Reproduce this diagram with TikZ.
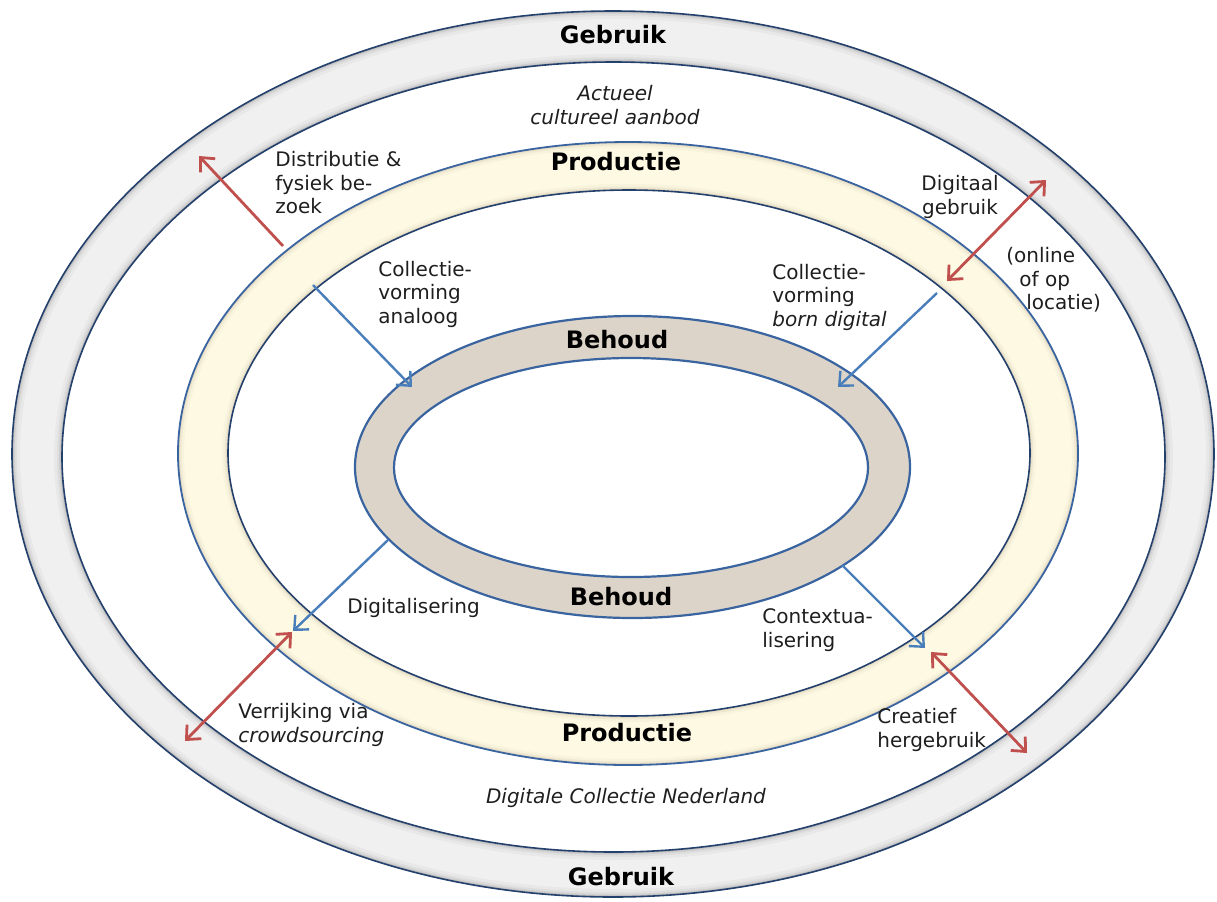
\documentclass[tikz,border=0pt]{standalone}
\usepackage{fontspec}
\setmainfont{DejaVu Sans}
\usetikzlibrary{arrows.meta}
\definecolor{navy}{HTML}{24406C}
\definecolor{ringblue}{HTML}{3A64A0}
\definecolor{arrblue}{HTML}{4A7EBB}
\definecolor{arrred}{HTML}{C0504D}
\definecolor{greyfill}{HTML}{F0F0F1}
\definecolor{yellowfill}{HTML}{FDF9E3}
\definecolor{taupefill}{HTML}{DCD4C8}
\definecolor{txt}{HTML}{1E1E1E}
\begin{document}
\begin{tikzpicture}[x=0.5pt,y=-0.5pt,
  lbl/.style={font=\fontsize{10}{11.75}\selectfont, text=txt, inner sep=0pt, align=left, anchor=west},
  clbl/.style={font=\fontsize{10}{11.75}\selectfont, text=txt, inner sep=0pt, align=center},
  ttl/.style={font=\fontsize{12}{14}\selectfont\bfseries, text=black, inner sep=0pt},
  barb/.tip={Straight Barb[length=5.5pt,width=10pt]},
  redarr/.style={draw=arrred, line width=1.4pt},
  bluearr/.style={draw=arrblue, line width=1.2pt},
  edge/.style={draw=navy, line width=0.8pt},
  bedge/.style={draw=ringblue, line width=0.9pt}
]
\useasboundingbox (0,0) rectangle (1217,901);

% ---------- outer grey ring (Gebruik) ----------
\begin{scope}[even odd rule]
  \clip (613,454) ellipse[x radius=601,y radius=443]
        (613.5,457) ellipse[x radius=551.5,y radius=395];
  \fill[greyfill] (0,0) rectangle (1217,901);
  \foreach \w/\o in {8pt/0.03,5pt/0.04,3pt/0.06,1.5pt/0.10}{
    \draw[black, line width=\w, opacity=\o] (613,454) ellipse[x radius=601,y radius=443]
                                            (613.5,457) ellipse[x radius=551.5,y radius=395];
  }
\end{scope}
\draw[edge] (613,454) ellipse[x radius=601,y radius=443];
\draw[edge] (613.5,457) ellipse[x radius=551.5,y radius=395];

% ---------- middle yellow ring (Productie) ----------
\begin{scope}[even odd rule]
  \clip (628,453.5) ellipse[x radius=450,y radius=311.5]
        (629,453) ellipse[x radius=401,y radius=263];
  \fill[yellowfill] (0,0) rectangle (1217,901);
  \foreach \w/\o in {6pt/0.03,3.5pt/0.05,1.8pt/0.08}{
    \draw[brown!50!black, line width=\w, opacity=\o] (628,453.5) ellipse[x radius=450,y radius=311.5]
                                                     (629,453) ellipse[x radius=401,y radius=263];
  }
\end{scope}
\draw[bedge] (628,453.5) ellipse[x radius=450,y radius=311.5];
\draw[edge] (629,453) ellipse[x radius=401,y radius=263];

% ---------- inner taupe ring (Behoud) ----------
\fill[taupefill, even odd rule] (632.5,467) ellipse[x radius=277.5,y radius=151]
                                (631,467.5) ellipse[x radius=237,y radius=109.5];
\draw[bedge, line width=1.1pt] (632.5,467) ellipse[x radius=277.5,y radius=151];
\draw[bedge, line width=1.1pt] (631,467.5) ellipse[x radius=237,y radius=109.5];

% ---------- titles ----------
\node[ttl] (g1) at (613,35) {Gebruik};
\node[ttl] (p1) at (616,162) {Productie};
\node[ttl] (b1) at (617,340) {Behoud};
\node[ttl] (b2) at (621,597) {Behoud};
\node[ttl] (p2) at (627,733) {Productie};
\node[ttl] (g2) at (621,877) {Gebruik};

% ---------- labels ----------
\node[clbl, font=\fontsize{10}{11.75}\selectfont\itshape] (act) at (615,105) {Actueel\\cultureel aanbod};
\node[clbl, font=\fontsize{10}{11.75}\selectfont\itshape] (dcn) at (626,798) {Digitale Collectie Nederland};
\node[lbl] (dist) at (275,183) {Distributie \&\\fysiek be-\\zoek};
\node[clbl] (dig) at (960,197) {Digitaal\\gebruik};
\node[lbl] (onl) at (1006,280) {(online\\\hspace*{6.5pt}of op\\\hspace*{10pt}locatie)};
\node[lbl] (cva) at (378,294) {Collectie-\\vorming\\analoog};
\node[lbl] (cvb) at (772,297) {Collectie-\\vorming\\\textit{born digital}};
\node[lbl] (dgl) at (347,608) {Digitalisering};
\node[lbl] (ctx) at (762,630) {Contextua-\\lisering};
\node[lbl] (ver) at (238,725) {Verrijking via\\\textit{crowdsourcing}};
\node[lbl] (cre) at (877,730) {Creatief\\hergebruik};

% ---------- arrow end points ----------
\coordinate (rdA) at (283,246);  \coordinate (rdB) at (199,156);
\coordinate (rgA) at (947,281);  \coordinate (rgB) at (1046,180);
\coordinate (rvA) at (292,632);  \coordinate (rvB) at (185,741);
\coordinate (rcA) at (931,652);  \coordinate (rcB) at (1027,753);
\coordinate (baA) at (313,285);  \coordinate (baB) at (412,387);
\coordinate (bbA) at (937,293);  \coordinate (bbB) at (838,387);
\coordinate (bdA) at (388,540);  \coordinate (bdB) at (293,631);
\coordinate (bcA) at (842,565);  \coordinate (bcB) at (925,648);

% ---------- arrows ----------
\draw[redarr, -barb] (rdA) -- (rdB);
\draw[redarr, barb-barb] (rgA) -- (rgB);
\draw[redarr, barb-barb] (rvA) -- (rvB);
\draw[redarr, barb-barb] (rcA) -- (rcB);
\draw[bluearr, -barb] (baA) -- (baB);
\draw[bluearr, -barb] (bbA) -- (bbB);
\draw[bluearr, -barb] (bdA) -- (bdB);
\draw[bluearr, -barb] (bcA) -- (bcB);
\end{tikzpicture}
\end{document}
